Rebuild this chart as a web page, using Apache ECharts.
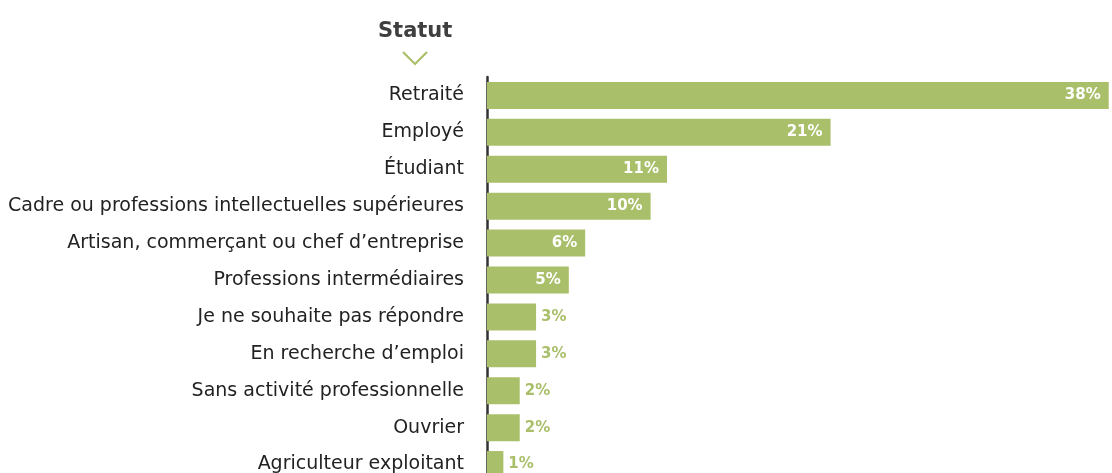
<!DOCTYPE html>
<html><head><meta charset="utf-8">
<script src="https://cdn.jsdelivr.net/npm/echarts@6/dist/echarts.min.js"></script>
<style>html,body{margin:0;padding:0;background:#fff}#c{width:1112px;height:473px}</style>
</head><body><div id="c"></div>
<script>
const categories = ["Retraité","Employé","Étudiant","Cadre ou professions intellectuelles supérieures","Artisan, commerçant ou chef d’entreprise","Professions intermédiaires","Je ne souhaite pas répondre","En recherche d’emploi","Sans activité professionnelle","Ouvrier","Agriculteur exploitant"];
const values = [38,21,11,10,6,5,3,3,2,2,1];
const insideThreshold = 5;
const GREEN = '#a9bf6a';
const chart = echarts.init(document.getElementById('c'), null, {renderer:'canvas'});
const data = values.map(v => ({
  value: v,
  label: v >= insideThreshold
    ? {position:'insideRight', color:'#fff', distance:8}
    : {position:'right', color:GREEN, distance:5}
}));
chart.setOption({
  animation:false,
  title:{text:'Statut', left:373, top:16, textStyle:{fontFamily:'DejaVu Sans', fontWeight:'bold', fontSize:21, color:'#3f3f3f'}},
  graphic:[{type:'polyline', shape:{points:[[403,52],[415,64],[427,52]]}, style:{stroke:GREEN, lineWidth:2.2, fill:null}}],
  grid:{left:487, right:0, top:77, height:406, outerBoundsMode:'none', containLabel:false},
  xAxis:{type:'value', min:0, max:38.2, show:false},
  yAxis:{type:'category', inverse:true, data:categories,
    axisLine:{show:true, lineStyle:{color:'#333', width:2.5}},
    axisTick:{show:false},
    axisLabel:{margin:23, fontFamily:'DejaVu Sans', fontSize:19, color:'#222'}},
  series:[{type:'bar', data:data, barWidth:27, itemStyle:{color:GREEN},
    label:{show:true, formatter:'{c}%', fontFamily:'DejaVu Sans', fontWeight:'bold', fontSize:15}}]
});
</script></body></html>
